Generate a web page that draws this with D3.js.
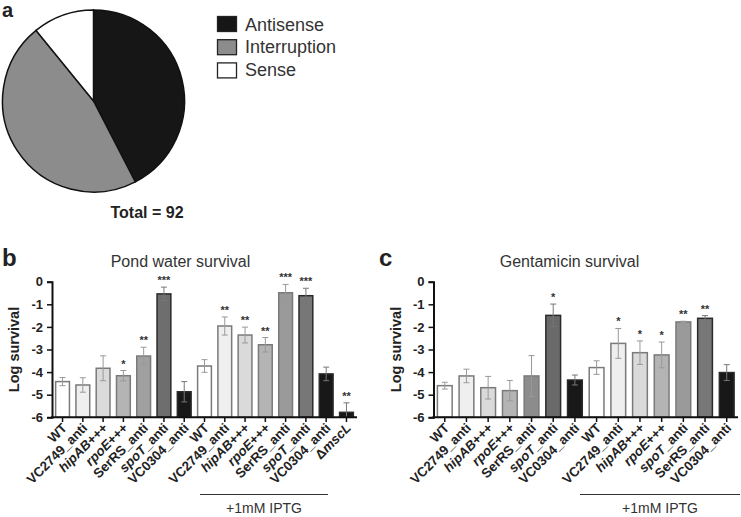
<!DOCTYPE html>
<html><head><meta charset="utf-8">
<script src="https://cdn.jsdelivr.net/npm/d3@7"></script>
<style>
body{margin:0;background:#fff;}
svg{display:block;font-family:"Liberation Sans",Arial,sans-serif;}
</style></head>
<body><svg id="chart" width="741" height="517"></svg>
<script>
// ---- data ----
const pieCategories = ["Antisense", "Interruption", "Sense"];
const pieValues = [39, 43, 10];
const pieColors = ["#161616", "#8c8c8c", "#ffffff"];
const pieTotalLabel = "Total = 92";

const pondLabels = ["WT","VC2749_anti","hipAB+++","rpoE+++","SerRS_anti","spoT_anti","VC0304_anti",
  "WT","VC2749_anti","hipAB+++","rpoE+++","SerRS_anti","spoT_anti","VC0304_anti","ΔmscL"];
const pondMeans = [-4.42,-4.57,-3.83,-4.16,-3.29,-0.54,-4.87,-3.73,-1.96,-2.36,-2.79,-0.49,-0.62,-4.08,-5.78];
const pondErr   = [0.18,0.32,0.55,0.23,0.39,0.30,0.45,0.28,0.40,0.35,0.32,0.37,0.33,0.30,0.42];
const pondStars = ["","","","*","**","***","","","**","**","**","***","***","","**"];
const pondFills = ["#ffffff","#efefef","#dadada","#b4b4b4","#a0a0a0","#6e6e6e","#181818",
  "#ffffff","#efefef","#dadada","#b4b4b4","#9a9a9a","#777777","#181818","#181818"];

const gentLabels = ["WT","VC2749_anti","hipAB+++","rpoE+++","SerRS_anti","spoT_anti","VC0304_anti",
  "WT","VC2749_anti","hipAB+++","rpoE+++","spoT_anti","SerRS_anti","VC0304_anti"];
const gentMeans = [-4.60,-4.17,-4.69,-4.82,-4.17,-1.49,-4.35,-3.80,-2.73,-3.14,-3.24,-1.78,-1.62,-4.02];
const gentErr   = [0.15,0.30,0.50,0.45,0.90,0.50,0.22,0.30,0.66,0.52,0.57,0.03,0.12,0.35];
const gentStars = ["","","","","","*","","","*","*","*","**","**",""];
const gentFills = ["#ffffff","#efefef","#dadada","#b4b4b4","#8c8c8c","#6a6a6a","#181818",
  "#ffffff","#efefef","#dadada","#b4b4b4","#9a9a9a","#777777","#181818"];

const yTicks = [0,-1,-2,-3,-4,-5,-6];
const iptgLabel = "+1mM IPTG";

// ---- drawing ----
const svg = d3.select("#chart");
const txt = "#222";

// Panel a: pie
svg.append("text").attr("x",2).attr("y",17).attr("font-size",20).attr("font-weight","bold").attr("fill",txt).text("a");
const pieG = svg.append("g").attr("transform","translate(93.5,101)");
const arcs = d3.pie().sort(null).value(d=>d)(pieValues);
const arc = d3.arc().innerRadius(0).outerRadius(91);
pieG.selectAll("path").data(arcs).join("path")
  .attr("d",arc).attr("fill",(d,i)=>pieColors[i]).attr("stroke","#111").attr("stroke-width",1.5);
svg.append("text").attr("x",147).attr("y",218).attr("text-anchor","middle").attr("font-size",16)
  .attr("font-weight","bold").attr("fill",txt).text(pieTotalLabel);
const leg = svg.append("g");
pieCategories.forEach((c,i)=>{
  leg.append("rect").attr("x",217.5).attr("y",16.5+i*23.2).attr("width",19).attr("height",15)
    .attr("fill",pieColors[i]).attr("stroke","#222").attr("stroke-width",1.3);
  leg.append("text").attr("x",245).attr("y",30.5+i*22.5).attr("font-size",18).attr("fill","#333").text(c);
});

function labelText(sel, s){
  let m;
  if((m = s.match(/^(hipAB|rpoE|spoT)(.*)$/))){
    sel.append("tspan").attr("font-style","italic").text(m[1]);
    sel.append("tspan").text(m[2]);
  } else if((m = s.match(/^Δ(.*)$/))){
    sel.append("tspan").text("Δ");
    sel.append("tspan").attr("font-style","italic").text(m[1]);
  } else sel.text(s);
}

function barPanel(opt){
  const g = svg.append("g");
  const y = d3.scaleLinear().domain([-6,0]).range([417.3,281.7]);
  const x = d3.scaleBand().domain(d3.range(opt.labels.length)).range([opt.x0,opt.x1]).paddingInner(0.32).paddingOuter(0.18);
  g.append("text").attr("x",opt.letterX).attr("y",266).attr("font-size",24).attr("font-weight","bold").attr("fill",txt).text(opt.letter);
  g.append("text").attr("x",opt.titleX).attr("y",267).attr("text-anchor","middle").attr("font-size",16).attr("fill","#333").text(opt.title);
  g.append("text").attr("transform",`translate(${opt.x0-33},349.5) rotate(-90)`).attr("text-anchor","middle")
    .attr("font-size",14.5).attr("font-weight","bold").attr("fill",txt).text("Log survival");
  opt.labels.forEach((l,i)=>{
    const v = opt.means[i], e = opt.err[i];
    const bx = x(i), bw = x.bandwidth(), cx = bx+bw/2;
    const dark = d3.hsl(opt.fills[i]).l < 0.5;
    g.append("rect").attr("x",bx).attr("y",y(v)).attr("width",bw).attr("height",y(-6)-y(v))
      .attr("fill",opt.fills[i]).attr("stroke",dark?"#2a2a2a":"#7a7a7a").attr("stroke-width",1.5);
    const eg = g.append("g").attr("stroke",dark?"#777":"#999").attr("stroke-width",1);
    eg.append("line").attr("x1",cx).attr("x2",cx).attr("y1",y(v+e)).attr("y2",Math.min(y(v-e),y(-6)));
    eg.append("line").attr("x1",cx-3).attr("x2",cx+3).attr("y1",y(v+e)).attr("y2",y(v+e));
    if(y(v-e) < y(-6)) eg.append("line").attr("x1",cx-3).attr("x2",cx+3).attr("y1",y(v-e)).attr("y2",y(v-e));
    if(opt.stars[i]){
      g.append("text").attr("x",cx).attr("y",y(v+e)-3).attr("text-anchor","middle").attr("font-size",11)
        .attr("font-weight","bold").attr("fill","#333").text(opt.stars[i]);
    }
    g.append("line").attr("x1",cx).attr("x2",cx).attr("y1",417.3).attr("y2",422).attr("stroke","#111").attr("stroke-width",1.5);
    const t = g.append("text").attr("transform",`translate(${cx+2},425.5) rotate(-45)`).attr("text-anchor","end")
      .attr("dy","0.35em").attr("font-size",13.3).attr("font-weight","bold").attr("fill",txt);
    labelText(t,l);
  });
  const yAxis = d3.axisLeft(y).tickValues(yTicks).tickSize(5).tickPadding(4).tickFormat(d=>d===0?"0":d3.format("d")(d).replace("−","-"));
  const ya = g.append("g").attr("transform",`translate(${opt.x0},0)`).call(yAxis);
  ya.select(".domain").attr("stroke","#111").attr("stroke-width",2);
  ya.selectAll(".tick line").attr("stroke","#111").attr("stroke-width",1.5);
  ya.selectAll(".tick text").attr("font-size",13).attr("font-weight","bold").attr("fill",txt).attr("font-family","Liberation Sans, Arial, sans-serif");
  g.append("line").attr("x1",opt.x0-1).attr("x2",opt.x1).attr("y1",417.3).attr("y2",417.3).attr("stroke","#111").attr("stroke-width",2);
  g.append("line").attr("x1",opt.iptg[0]).attr("x2",opt.iptg[1]).attr("y1",494.5).attr("y2",494.5).attr("stroke","#333").attr("stroke-width",1.2);
  g.append("text").attr("x",(opt.iptg[0]+opt.iptg[1])/2).attr("y",513).attr("text-anchor","middle").attr("font-size",14).attr("fill","#333").text(iptgLabel);
}

barPanel({letter:"b",letterX:2,title:"Pond water survival",titleX:180.5,x0:52,x1:357,
  labels:pondLabels,means:pondMeans,err:pondErr,stars:pondStars,fills:pondFills,iptg:[200,328]});
barPanel({letter:"c",letterX:379,title:"Gentamicin survival",titleX:569.5,x0:433.5,x1:738,
  labels:gentLabels,means:gentMeans,err:gentErr,stars:gentStars,fills:gentFills,iptg:[580,740]});
</script></body></html>
